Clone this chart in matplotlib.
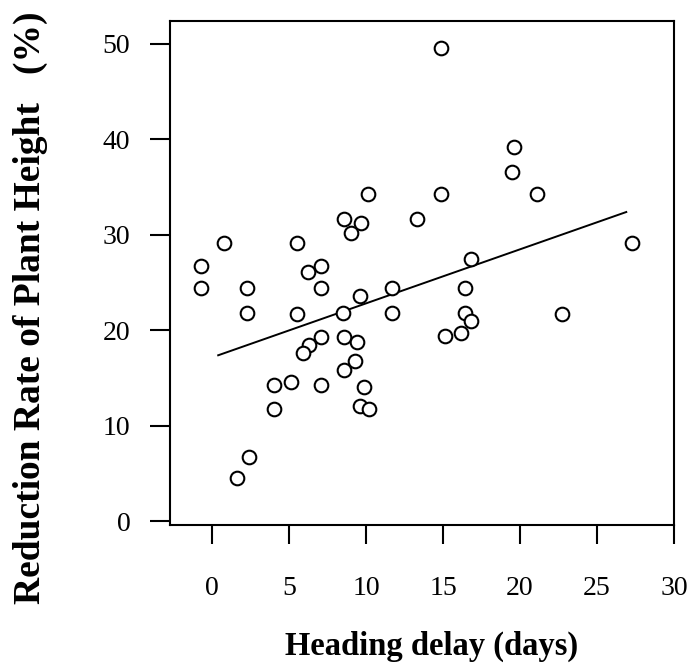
import numpy as np
import matplotlib
matplotlib.use("Agg")
import matplotlib.pyplot as plt

plt.rcParams['font.family'] = ['Liberation Serif', 'DejaVu Serif']

# heading delay (days) and reduction rate of plant height (%)
delay = [-0.7, -0.7, 0.8, 2.3, 2.3, 5.5, 6.2, 7.1, 7.1, 5.5,
         8.5, 7.1, 6.3, 5.9, 10.1, 8.6, 9.7, 9.0, 13.3, 14.9,
         14.9, 19.5, 19.6, 21.1, 16.8, 9.6, 11.7, 16.4, 11.7, 8.6,
         9.4, 16.4, 16.8, 16.2, 15.1, 9.3, 8.6, 4.0, 5.1, 7.1,
         4.0, 2.4, 1.6, 9.9, 9.6, 10.2, 27.3, 22.7]
reduction = [26.8, 24.4, 29.2, 24.4, 21.8, 29.2, 26.1, 26.8, 24.4, 21.7,
             21.8, 19.3, 18.5, 17.6, 34.3, 31.7, 31.3, 30.2, 31.7, 34.3,
             49.6, 36.6, 39.2, 34.3, 27.5, 23.6, 24.4, 24.4, 21.8, 19.3,
             18.8, 21.8, 21.0, 19.7, 19.4, 16.8, 15.9, 14.3, 14.6, 14.3,
             11.8, 6.8, 4.6, 14.1, 12.1, 11.8, 29.2, 21.7]

# regression line ends
fit_x = [0.4, 26.9]
fit_y = [17.4, 32.4]

xticks = [0, 5, 10, 15, 20, 25, 30]
yticks = [0, 10, 20, 30, 40, 50]

fig = plt.figure(figsize=(6.9, 6.71), dpi=100)
ax = fig.add_axes([170/690, 1-525/671, 504/690, 504/671])

ax.plot(delay, reduction, 'o', mfc='white', mec='black', ms=9.8, mew=1.5, zorder=3)
ax.plot(fit_x, fit_y, color='black', lw=1.4)

ax.set_xlim(-2.73, 30)
ax.set_ylim(-0.37, 52.4)
ax.set_xticks(xticks)
ax.set_yticks(yticks)
for s in ax.spines.values():
    s.set_linewidth(1.5)
ax.tick_params(axis='x', direction='out', length=14, width=1.5, pad=23, labelsize=20)
ax.tick_params(axis='y', direction='out', length=14.5, width=1.5, pad=14, labelsize=20)

fig.text(432/690, 1-646/671, 'Heading delay (days)', ha='center', va='center',
         fontsize=23.5, fontweight='bold')
fig.text(30/690, 1-308/671, 'Reduction Rate of Plant Height   (%)', ha='center', va='center',
         rotation=90, fontsize=27, fontweight='bold')

fig.savefig('out.png', dpi=100)
